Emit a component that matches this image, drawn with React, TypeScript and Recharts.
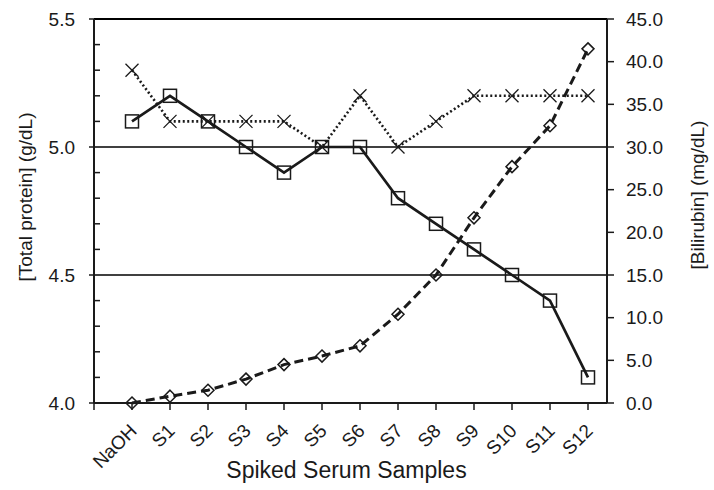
import { LineChart, Line, XAxis, YAxis, ReferenceLine } from "recharts";

const samples = ["NaOH", "S1", "S2", "S3", "S4", "S5", "S6", "S7", "S8", "S9", "S10", "S11", "S12"];
const totalProtein = [5.1, 5.2, 5.1, 5.0, 4.9, 5.0, 5.0, 4.8, 4.7, 4.6, 4.5, 4.4, 4.1];
const totalProteinRef = [5.3, 5.1, 5.1, 5.1, 5.1, 5.0, 5.2, 5.0, 5.1, 5.2, 5.2, 5.2, 5.2];
const bilirubin = [0, 0.8, 1.5, 2.8, 4.5, 5.5, 6.7, 10.4, 15.0, 21.7, 27.7, 32.5, 41.5];

const proteinTicks = [4.0, 4.1, 4.2, 4.3, 4.4, 4.5, 4.6, 4.7, 4.8, 4.9, 5.0, 5.1, 5.2, 5.3, 5.4, 5.5];
const bilirubinTicks = [0, 5, 10, 15, 20, 25, 30, 35, 40, 45];
const gridValues = [4.5, 5.0, 5.5];

const data = samples.map((name, i) => ({
  i,
  name,
  protein: totalProtein[i],
  proteinRef: totalProteinRef[i],
  bilirubin: bilirubin[i],
}));
const sampleTicks = [-1, ...data.map((d) => d.i)];

const FONT = "'Liberation Sans', Arial, sans-serif";
const INK = "#1a1a1a";

const ProteinTick = ({ x, y, payload }: any) => {
  const v = payload.value;
  const major = Math.abs(v * 2 - Math.round(v * 2)) < 1e-6;
  return (
    <g>
      {major ? (
        <line x1={x - 5} x2={x} y1={y} y2={y} stroke={INK} strokeWidth={1.5} />
      ) : (
        <line x1={x} x2={x + 6} y1={y} y2={y} stroke={INK} strokeWidth={1.5} />
      )}
      {major && (
        <text x={x - 19} y={y} dy="0.35em" textAnchor="end" fontSize={19} fontFamily={FONT} fill={INK}>
          {v.toFixed(1)}
        </text>
      )}
    </g>
  );
};

const BilirubinTick = ({ x, y, payload }: any) => (
  <g>
    <line x1={x} x2={x + 7} y1={y} y2={y} stroke={INK} strokeWidth={1.5} />
    <text x={x + 19} y={y} dy="0.35em" textAnchor="start" fontSize={19} fontFamily={FONT} fill={INK}>
      {Number(payload.value).toFixed(1)}
    </text>
  </g>
);

const SampleTick = ({ x, y, payload }: any) => {
  const label = samples[payload.value];
  const tx = x + 6;
  const ty = y + 29;
  return (
    <g>
      <line x1={x} x2={x} y1={y} y2={y + 7} stroke={INK} strokeWidth={1.5} />
      {label && (
        <text
          x={tx}
          y={ty}
          textAnchor="end"
          transform={`rotate(-45, ${tx}, ${ty})`}
          fontSize={19}
          fontFamily={FONT}
          fill={INK}
        >
          {label}
        </text>
      )}
    </g>
  );
};

const SquareDot = ({ cx, cy, index }: any) => (
  <rect key={`sq-${index}`} x={cx - 6.5} y={cy - 6.5} width={13} height={13} fill="none" stroke={INK} strokeWidth={1.5} />
);

const CrossDot = ({ cx, cy, index }: any) => (
  <path
    key={`x-${index}`}
    d={`M${cx - 6.5},${cy - 6.5}L${cx + 6.5},${cy + 6.5}M${cx - 6.5},${cy + 6.5}L${cx + 6.5},${cy - 6.5}`}
    stroke={INK}
    strokeWidth={1.3}
    fill="none"
  />
);

const DiamondDot = ({ cx, cy, index }: any) => (
  <path
    key={`d-${index}`}
    d={`M${cx},${cy - 6}L${cx + 6},${cy}L${cx},${cy + 6}L${cx - 6},${cy}Z`}
    stroke={INK}
    strokeWidth={1.5}
    fill="none"
  />
);

const App = () => {
  return (
    <div style={{ position: "absolute", left: 0, top: 0, width: 714, height: 490, background: "#fff" }}>
      <LineChart width={714} height={490} data={data} margin={{ top: 19, right: 0, bottom: 0, left: 0 }}>
        <XAxis
          dataKey="i"
          type="number"
          domain={[-1, 12.5]}
          ticks={sampleTicks}
          interval={0}
          height={87}
          tickSize={0}
          tickMargin={0}
          tickLine={false}
          tick={<SampleTick />}
          axisLine={{ stroke: INK, strokeWidth: 2 }}
          label={({ viewBox }: any) => (
            <text
              x={viewBox.x + viewBox.width / 2 - 4}
              y={viewBox.y + 75}
              textAnchor="middle"
              fontSize={23}
              fontFamily={FONT}
              fill={INK}
            >
              Spiked Serum Samples
            </text>
          )}
        />
        <YAxis
          yAxisId="left"
          domain={[4, 5.5]}
          ticks={proteinTicks}
          interval={0}
          width={94}
          tickSize={0}
          tickMargin={0}
          tickLine={false}
          tick={<ProteinTick />}
          axisLine={{ stroke: INK, strokeWidth: 2 }}
          label={({ viewBox }: any) => {
            const lx = 25;
            const ly = viewBox.y + viewBox.height / 2 - 14;
            return (
              <text
                x={lx}
                y={ly}
                dy="0.35em"
                textAnchor="middle"
                transform={`rotate(-90, ${lx}, ${ly})`}
                fontSize={19}
                fontFamily={FONT}
                fill={INK}
              >
                [Total protein] (g/dL)
              </text>
            );
          }}
        />
        <YAxis
          yAxisId="right"
          orientation="right"
          domain={[0, 45]}
          ticks={bilirubinTicks}
          interval={0}
          width={107}
          tickSize={0}
          tickMargin={0}
          tickLine={false}
          tick={<BilirubinTick />}
          axisLine={{ stroke: INK, strokeWidth: 2 }}
          label={({ viewBox }: any) => {
            const lx = 697;
            const ly = viewBox.y + viewBox.height / 2 - 16;
            return (
              <text
                x={lx}
                y={ly}
                dy="0.35em"
                textAnchor="middle"
                transform={`rotate(-90, ${lx}, ${ly})`}
                fontSize={19}
                fontFamily={FONT}
                fill={INK}
              >
                [Bilirubin] (mg/dL)
              </text>
            );
          }}
        />
        {gridValues.map((v) => (
          <ReferenceLine key={v} yAxisId="left" y={v} stroke="#000" strokeWidth={v === 5.5 ? 2 : 1.3} />
        ))}
        <Line
          yAxisId="right"
          dataKey="bilirubin"
          type="linear"
          stroke={INK}
          strokeWidth={3}
          strokeDasharray="9 5"
          dot={DiamondDot}
          activeDot={false}
          isAnimationActive={false}
        />
        <Line
          yAxisId="left"
          dataKey="protein"
          type="linear"
          stroke={INK}
          strokeWidth={2.7}
          dot={SquareDot}
          activeDot={false}
          isAnimationActive={false}
        />
        <Line
          yAxisId="left"
          dataKey="proteinRef"
          type="linear"
          stroke={INK}
          strokeWidth={2.6}
          strokeDasharray="2 2.5"
          dot={CrossDot}
          activeDot={false}
          isAnimationActive={false}
        />
      </LineChart>
    </div>
  );
};

export default App;
